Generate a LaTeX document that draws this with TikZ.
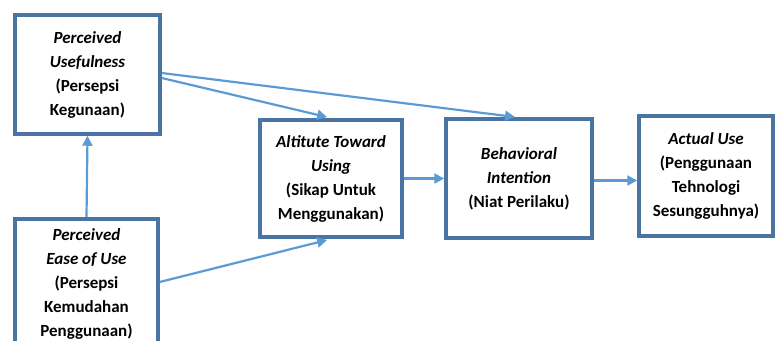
\documentclass[tikz,border=0pt]{standalone}
\usepackage{fontspec}
\setmainfont{Carlito}
\usetikzlibrary{arrows.meta}
\definecolor{boxblue}{HTML}{4A74A2}
\definecolor{linkblue}{HTML}{5B9BD5}

\begin{document}
\begin{tikzpicture}[x=1pt, y=-1pt,
  every node/.style = {shape=rectangle, draw=boxblue, line width=3.5pt,
    align=center, inner sep=2pt, font=\bfseries\fontsize{17}{24}\selectfont},
  link/.style = {draw=linkblue, line width=2.2pt,
    -{Triangle[length=10pt,width=10pt]}}]
  \useasboundingbox (0,0) rectangle (775,340);
  \clip (0,0) rectangle (775,340);
  % boxes
  \node[minimum width=145pt, minimum height=119pt] (pu) at (87.5,74.5)
    {\textit{Perceived}\\\textit{Usefulness}\\(Persepsi\\Kegunaan)};
  \node[minimum width=143pt, minimum height=130pt] (peou) at (86.5,284)
    {\textit{Perceived}\\\textit{Ease of Use}\\(Persepsi\\Kemudahan\\Penggunaan)};
  \node[minimum width=142pt, minimum height=117pt] (atu) at (331,178.5)
    {\textit{Altitute Toward}\\\textit{Using}\\(Sikap Untuk\\Menggunakan)};
  \node[minimum width=146pt, minimum height=119pt] (bi) at (519,178.5)
    {\textit{Behavioral}\\\textit{Intention}\\(Niat Perilaku)};
  \node[minimum width=134pt, minimum height=120pt] (au) at (706,176)
    {\textit{Actual Use}\\(Penggunaan\\Tehnologi\\Sesungguhnya)};
  % connectors
  \draw[link] (peou.north) -- (pu.south);
  \draw[link, shorten >=5pt] ([yshift=-3.5pt]pu.east) -- ([xshift=1pt]atu.north);
  \draw[link, shorten >=2pt] ([yshift=1.5pt]pu.east) -- ([xshift=-2pt]bi.north);
  \draw[link, shorten >=5pt] ([yshift=2pt]peou.east) -- ([xshift=1pt]atu.south);
  \draw[link] (atu.east) -- (bi.west);
  \draw[link] ([yshift=-2pt]bi.east) -- ([yshift=-2pt]bi.east -| au.west);
\end{tikzpicture}
\end{document}
